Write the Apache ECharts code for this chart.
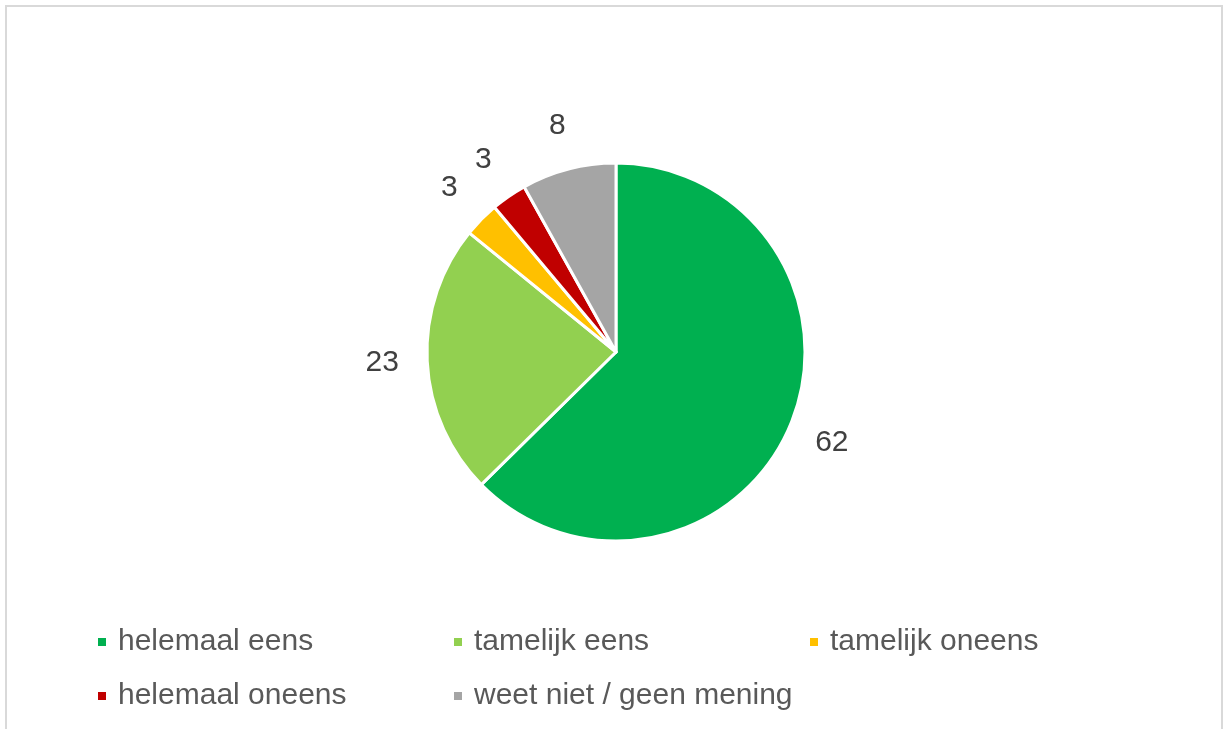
<!DOCTYPE html>
<html>
<head>
<meta charset="utf-8">
<script src="https://cdn.jsdelivr.net/npm/echarts@6/dist/echarts.min.js"></script>
<style>
  html, body { margin: 0; padding: 0; background: #fff; }
  #main { width: 1225px; height: 729px; }
</style>
</head>
<body>
<div id="main"></div>
<script>
// antwoordcategorieën en percentages
const categories = ['helemaal eens', 'tamelijk eens', 'tamelijk oneens', 'helemaal oneens', 'weet niet / geen mening'];
const values = [62, 23, 3, 3, 8];
const colors = ['#00B050', '#92D050', '#FFC000', '#C00000', '#A5A5A5'];

const pieData = categories.map((name, i) => ({ name: name, value: values[i] }));

let myChart = echarts.init(document.getElementById('main'));
let option = {
  animation: false,
  color: colors,
  graphic: [{
    type: 'rect',
    shape: { x: 6, y: 6, width: 1216, height: 800 },
    style: { fill: 'none', stroke: '#d9d9d9', lineWidth: 2 },
    silent: true
  }],
  legend: {
    data: categories,
    left: 96,
    top: 622,
    width: 1060,
    padding: 0,
    itemWidth: 10,
    itemHeight: 10,
    itemGap: 14,
    icon: 'rect',
    textStyle: {
      fontFamily: 'Liberation Sans, Arial, sans-serif',
      fontSize: 30,
      color: '#595959',
      width: 320,
      lineHeight: 40,
      padding: [0, 0, 0, 6]
    }
  },
  series: [
    {
      // de taart zelf
      name: 'antwoorden',
      type: 'pie',
      center: [616, 352],
      radius: [0, 189],
      startAngle: 90,
      clockwise: true,
      data: pieData,
      label: { show: false },
      labelLine: { show: false },
      itemStyle: { borderColor: '#ffffff', borderWidth: 3 },
      emphasis: { disabled: true }
    },
    {
      // onzichtbare ring voor de waardelabels buiten de taart
      name: 'labels',
      type: 'pie',
      center: [616, 352],
      radius: [189, 273],
      startAngle: 90,
      clockwise: true,
      silent: true,
      data: pieData,
      itemStyle: { color: 'rgba(0,0,0,0)' },
      label: {
        show: true,
        position: 'inside',
        formatter: '{c}',
        fontFamily: 'Liberation Sans, Arial, sans-serif',
        fontSize: 30,
        color: '#404040'
      },
      labelLine: { show: false },
      emphasis: { disabled: true }
    }
  ]
};
myChart.setOption(option);
</script>
</body>
</html>
